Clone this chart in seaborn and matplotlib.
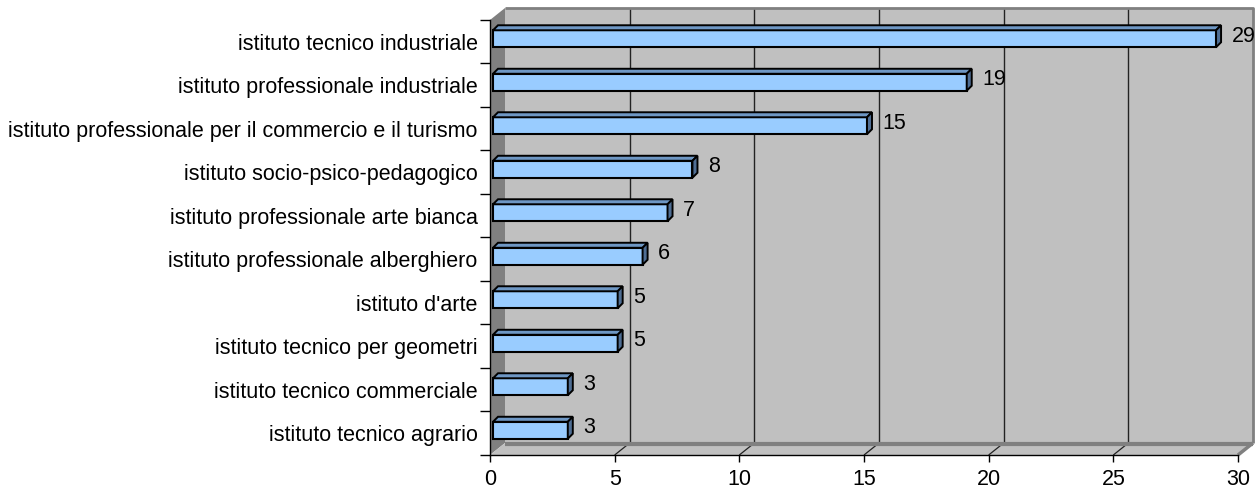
import numpy as np
import matplotlib
matplotlib.use("Agg")
import matplotlib.pyplot as plt
import seaborn as sns
from matplotlib.patches import Polygon
from matplotlib.lines import Line2D
from matplotlib.transforms import IdentityTransform, ScaledTranslation

# 🔹 Data
categories = [
    "istituto tecnico industriale",
    "istituto professionale industriale",
    "istituto professionale per il commercio e il turismo",
    "istituto socio-psico-pedagogico",
    "istituto professionale arte bianca",
    "istituto professionale alberghiero",
    "istituto d'arte",
    "istituto tecnico per geometri",
    "istituto tecnico commerciale",
    "istituto tecnico agrario",
]
values = [29, 19, 15, 8, 7, 6, 5, 5, 3, 3]
x_ticks = [0, 5, 10, 15, 20, 25, 30]

sns.set_style("white")
plt.rcParams['font.family'] = ['Liberation Sans', 'DejaVu Sans']
plt.rcParams['text.color'] = 'black'
plt.rcParams['xtick.color'] = 'black'
plt.rcParams['ytick.color'] = 'black'
plt.rcParams['xtick.labelcolor'] = 'black'
plt.rcParams['ytick.labelcolor'] = 'black'

FS = 15.5
W, H = 1259, 495
fig = plt.figure(figsize=(W / 100, H / 100), dpi=100)
ax = fig.add_axes([490 / W, 40 / H, 748 / W, 435 / H])

# 🔹 Bars
sns.barplot(x=values, y=categories, orient='h', color='#99CCFF', saturation=1,
            edgecolor='black', linewidth=1.5, width=0.39, ax=ax, zorder=3)
bars = list(ax.patches)

ax.set_xlim(x_ticks[0], x_ticks[-1])
ax.set_ylim(len(categories) - 0.5, -0.5)
ax.set_xlabel('')
ax.set_ylabel('')
ax.patch.set_visible(False)

ax.set_xticks(x_ticks)
ax.set_xticklabels([str(t) for t in x_ticks], fontsize=FS, color='black')
ax.set_yticks(range(len(categories)))
ax.set_yticklabels(categories, fontsize=FS, color='black')
ax.set_yticks(np.arange(-0.5, len(categories), 1), minor=True)
ax.tick_params(axis='y', which='major', length=0, pad=9)
ax.tick_params(axis='y', which='minor', length=7, width=1, color='black', left=True)
ax.tick_params(axis='x', which='major', length=5, width=1, color='black', bottom=True, pad=5)

for s in ['top', 'right']:
    ax.spines[s].set_visible(False)
for s in ['left', 'bottom']:
    ax.spines[s].set_color('black')
    ax.spines[s].set_linewidth(1)
    ax.spines[s].set_zorder(5)

# 🔹 3D walls (drawn in pixel space)
idt = IdentityTransform()
dx, dy = 15, 12
fl = ax.transData.transform((x_ticks[0], len(categories) - 0.5))
fr = ax.transData.transform((x_ticks[-1], len(categories) - 0.5))
tl = ax.transData.transform((x_ticks[0], -0.5))

def add_poly(pts, fc, ec='none', lw=0, z=0.5):
    ax.add_artist(Polygon(pts, closed=True, facecolor=fc, edgecolor=ec, linewidth=lw,
                          transform=idt, clip_on=False, zorder=z))

def add_line(xs, ys, color, lw, z=0.8):
    ax.add_artist(Line2D(xs, ys, color=color, linewidth=lw, transform=idt,
                         clip_on=False, zorder=z, solid_capstyle='butt'))

back = [(fl[0] + dx, fl[1] + dy), (fr[0] + dx, fl[1] + dy),
        (fr[0] + dx, tl[1] + dy), (fl[0] + dx, tl[1] + dy)]
add_poly(back, '#C0C0C0', z=0.2)
add_poly([tuple(fl), tuple(tl), (tl[0] + dx, tl[1] + dy), (fl[0] + dx, fl[1] + dy)], '#808080', z=0.3)
add_poly([tuple(fl), tuple(fr), (fr[0] + dx, fr[1] + dy), (fl[0] + dx, fl[1] + dy)], '#C0C0C0', z=0.3)

# wall borders
add_line([fl[0] + dx, fr[0] + dx, fr[0] + dx], [tl[1] + dy, tl[1] + dy, fl[1] + dy], '#808080', 2, z=0.9)
add_line([fl[0] + dx, fr[0] + dx], [fl[1] + dy - 1, fl[1] + dy - 1], '#808080', 3, z=0.9)
add_line([fr[0], fr[0] + dx], [fr[1], fr[1] + dy], '#808080', 2.5, z=0.9)

# gridlines on back wall and floor
for xv in x_ticks[1:-1]:
    xd = ax.transData.transform((xv, len(categories) - 0.5))[0]
    add_line([xd + dx, xd + dx], [fl[1] + dy, tl[1] + dy], '#222222', 1, z=0.8)
    add_line([xd, xd + dx], [fl[1], fl[1] + dy], '#222222', 0.9, z=0.8)

# 🔹 3D faces of bars
shift = ScaledTranslation(3 / 100, 3 / 100, fig.dpi_scale_trans)
bd = 5
for p in bars:
    p.set_transform(ax.transData + shift)
    x0, y0 = ax.transData.transform((p.get_x(), p.get_y() + p.get_height()))
    x1, y1 = ax.transData.transform((p.get_x() + p.get_width(), p.get_y()))
    x0, x1, y0, y1 = x0 + 3, x1 + 3, y0 + 3, y1 + 3  # y0 bottom, y1 top in pixels
    add_poly([(x0, y1), (x1, y1), (x1 + bd, y1 + bd), (x0 + bd, y1 + bd)], '#6E97C4', 'black', 1.4, z=3.2)
    add_poly([(x1, y0), (x1, y1), (x1 + bd, y1 + bd), (x1 + bd, y0 + bd)], '#4F6E94', 'black', 1.4, z=3.2)

# 🔹 Value labels
for p, v in zip(bars, values):
    ax.annotate(f'{v}', xy=(p.get_x() + p.get_width(), p.get_y() + p.get_height() / 2),
                xytext=(13.5, 4), textcoords='offset points', ha='left', va='center',
                fontsize=FS, color='black', annotation_clip=False, zorder=6)

fig.savefig('out.png', dpi=100)
